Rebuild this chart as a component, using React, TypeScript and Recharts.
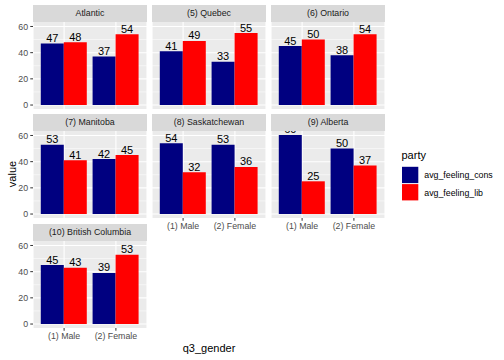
import { BarChart, Bar, XAxis, YAxis, CartesianGrid, LabelList } from 'recharts';

// facet panels, in reading order
const regions = [
    'Atlantic',
    '(5) Quebec',
    '(6) Ontario',
    '(7) Manitoba',
    '(8) Saskatchewan',
    '(9) Alberta',
    '(10) British Columbia',
];
const genders = ['(1) Male', '(2) Female'];
const seriesNames = ['avg_feeling_cons', 'avg_feeling_lib'];
const seriesColors = ['#000080', '#FF0000'];

// values per region: [male, female]
const consMale = [47, 41, 45, 53, 54, 60.4, 45];
const consFemale = [37, 33, 38, 42, 53, 50, 39];
const libMale = [48, 49, 50, 41, 32, 25, 43];
const libFemale = [54, 55, 54, 45, 36, 37, 53];

const yTicks = [0, 20, 40, 60];
const yMinor = [10, 30, 50];

const FONT = '"Liberation Sans", Arial, Helvetica, sans-serif';

// layout (ggplot facet_wrap look)
const colX = [33, 152, 271];
const rowTop = [5, 114, 224];
const PW = 114;
const STRIP_H = 17;
const PH = 87;
const Y_W = 33;
const X_H = 22;

const allVals = [...consMale, ...consFemale, ...libMale, ...libFemale];
const maxV = Math.max(...allVals);
const yDomain = [-0.05 * maxV, maxV * 1.05];

const rowsFor = (i: number) =>
    genders.map((g, gi) => ({
        gender: g,
        [seriesNames[0]]: gi === 0 ? consMale[i] : consFemale[i],
        [seriesNames[1]]: gi === 0 ? libMale[i] : libFemale[i],
    }));

const ValueLabel = (props: any) => {
    const { x, y, width, value } = props;
    return (
        <text
            x={x + width / 2}
            y={y - 1.5}
            textAnchor="middle"
            fontSize={11}
            fontFamily={FONT}
            fill="#000"
        >
            {Math.round(value)}
        </text>
    );
};

const Panel = ({ i }: { i: number }) => {
    const col = i % 3;
    const row = Math.floor(i / 3);
    const showY = col === 0;
    // x axis only where no panel sits below
    const showX = i + 3 >= regions.length;
    const left = colX[col] - (showY ? Y_W : 0);
    const top = rowTop[row] + STRIP_H;
    const w = PW + (showY ? Y_W : 0);
    const h = PH + (showX ? X_H : 0);

    return (
        <>
            <div
                style={{
                    position: 'absolute',
                    left: colX[col],
                    top: rowTop[row],
                    width: PW,
                    height: STRIP_H,
                    background: '#D9D9D9',
                    color: '#1A1A1A',
                    fontSize: 8.8,
                    lineHeight: `${STRIP_H}px`,
                    textAlign: 'center',
                    fontFamily: FONT,
                }}
            >
                {regions[i]}
            </div>
            <div style={{ position: 'absolute', left, top, width: w, height: h + 6, overflow: 'hidden' }}>
                <BarChart
                    width={w}
                    height={h}
                    data={rowsFor(i)}
                    margin={{ top: 0, right: 0, bottom: 0, left: 0 }}
                    barCategoryGap="5%"
                    barGap={0}
                    style={{ overflow: 'visible' }}
                >
                    <CartesianGrid
                        fill="#EBEBEB"
                        stroke="#FFFFFF"
                        strokeWidth={1.07}
                        horizontalValues={yTicks}
                    />
                    <CartesianGrid
                        stroke="#FFFFFF"
                        strokeWidth={0.53}
                        vertical={false}
                        horizontalValues={yMinor}
                    />
                    <XAxis
                        dataKey="gender"
                        hide={!showX}
                        height={X_H}
                        padding={{ left: 5.2, right: 5.2 }}
                        axisLine={false}
                        tickLine={{ stroke: '#333333', strokeWidth: 1 }}
                        tickSize={2.75}
                        tickMargin={2.2}
                        tick={{ fontSize: 8.8, fill: '#4D4D4D', fontFamily: FONT }}
                        interval={0}
                    />
                    <YAxis
                        hide={!showY}
                        width={Y_W}
                        domain={yDomain}
                        ticks={yTicks}
                        interval={0}
                        type="number"
                        allowDataOverflow
                        axisLine={false}
                        tickLine={{ stroke: '#333333', strokeWidth: 1 }}
                        tickSize={2.75}
                        tickMargin={2.2}
                        tick={{ fontSize: 8.8, fill: '#4D4D4D', fontFamily: FONT }}
                    />
                    {seriesNames.map((s, si) => (
                        <Bar key={s} dataKey={s} fill={seriesColors[si]} isAnimationActive={false}>
                            <LabelList dataKey={s} content={<ValueLabel />} />
                        </Bar>
                    ))}
                </BarChart>
            </div>
        </>
    );
};

export default function App() {
    return (
        <div
            style={{
                position: 'absolute',
                left: 0,
                top: 0,
                width: 504,
                height: 360,
                background: '#FFFFFF',
                fontFamily: FONT,
            }}
        >
            {regions.map((_, i) => (
                <Panel key={i} i={i} />
            ))}
            <svg
                width={504}
                height={360}
                style={{ position: 'absolute', left: 0, top: 0, pointerEvents: 'none' }}
            >
                {/* axis titles */}
                <text
                    x={0}
                    y={0}
                    transform="translate(15.5,174) rotate(-90)"
                    textAnchor="middle"
                    fontSize={11}
                    fontFamily={FONT}
                    fill="#000"
                >
                    value
                </text>
                <text x={209} y={352} textAnchor="middle" fontSize={11} fontFamily={FONT} fill="#000">
                    q3_gender
                </text>
                {/* legend */}
                <text x={401.5} y={159} fontSize={11} fontFamily={FONT} fill="#000">
                    party
                </text>
                {seriesNames.map((s, si) => (
                    <g key={s}>
                        <rect
                            x={402}
                            y={166.8 + si * 17.3}
                            width={16.3}
                            height={16.3}
                            fill={seriesColors[si]}
                        />
                        <text
                            x={424.3}
                            y={175.4 + si * 17.3}
                            dominantBaseline="central"
                            fontSize={8.8}
                            fontFamily={FONT}
                            fill="#000"
                        >
                            {s}
                        </text>
                    </g>
                ))}
            </svg>
        </div>
    );
}
